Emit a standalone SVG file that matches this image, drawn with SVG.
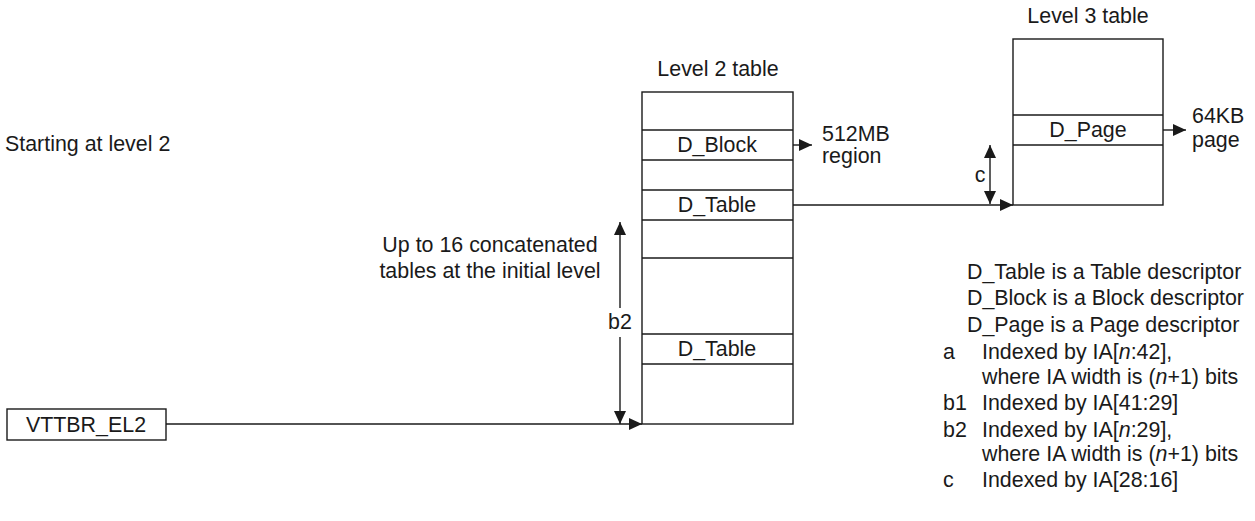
<svg xmlns="http://www.w3.org/2000/svg" width="1255" height="521" viewBox="0 0 1255 521">
<style>
text{font-family:"Liberation Sans",Arial,sans-serif;font-size:21.4px;fill:#1a1a1a}
.m{text-anchor:middle}
.box{fill:#fff;stroke:#1a1a1a;stroke-width:1.4}
.ln{fill:none;stroke:#1a1a1a;stroke-width:1.4}
</style>
<defs>
<marker id="ah" markerUnits="userSpaceOnUse" markerWidth="13" markerHeight="12" viewBox="0 0 13 12" refX="13" refY="6" orient="auto-start-reverse">
<path d="M0,0 L13,6 L0,12 Z" fill="#1a1a1a"/>
</marker>
</defs>
<rect width="1255" height="521" fill="#fff"/>

<g id="start-label"><text x="5" y="151">Starting at level 2</text></g>

<g id="level2-table">
<text class="m" x="718" y="76">Level 2 table</text>
<rect class="box" x="642" y="92" width="151" height="332"/>
<line class="ln" x1="642" y1="130" x2="793" y2="130"/>
<line class="ln" x1="642" y1="160" x2="793" y2="160"/>
<line class="ln" x1="642" y1="190" x2="793" y2="190"/>
<line class="ln" x1="642" y1="220" x2="793" y2="220"/>
<line class="ln" x1="642" y1="258" x2="793" y2="258"/>
<line class="ln" x1="642" y1="334" x2="793" y2="334"/>
<line class="ln" x1="642" y1="364" x2="793" y2="364"/>
<text class="m" x="717" y="152">D_Block</text>
<text class="m" x="717" y="212">D_Table</text>
<text class="m" x="717" y="356">D_Table</text>
</g>

<g id="level3-table">
<text class="m" x="1088" y="23">Level 3 table</text>
<rect class="box" x="1013" y="39" width="150" height="166"/>
<line class="ln" x1="1013" y1="115" x2="1163" y2="115"/>
<line class="ln" x1="1013" y1="145" x2="1163" y2="145"/>
<text class="m" x="1088" y="137">D_Page</text>
</g>

<g id="vttbr">
<rect class="box" x="7" y="409" width="159" height="31"/>
<text class="m" x="86" y="432">VTTBR_EL2</text>
</g>

<g id="region-label"><text x="822" y="141">512MB</text><text x="822" y="163">region</text></g>
<g id="page-label"><text x="1192" y="123">64KB</text><text x="1192" y="147">page</text></g>

<g id="concat-label">
<text class="m" x="490" y="252">Up to 16 concatenated</text>
<text class="m" x="490" y="278">tables at the initial level</text>
</g>
<text class="m" x="620" y="329">b2</text>
<text class="m" x="980" y="182">c</text>

<g id="connectors">
<line class="ln" x1="166" y1="424" x2="642" y2="424" marker-end="url(#ah)"/>
<line class="ln" x1="793" y1="145" x2="812" y2="145" marker-end="url(#ah)"/>
<line class="ln" x1="793" y1="205" x2="1013" y2="205" marker-end="url(#ah)"/>
<line class="ln" x1="1163" y1="130" x2="1186" y2="130" marker-end="url(#ah)"/>
<line class="ln" x1="620" y1="308" x2="620" y2="222" marker-end="url(#ah)"/>
<line class="ln" x1="620" y1="337" x2="620" y2="424" marker-end="url(#ah)"/>
<line class="ln" x1="990" y1="145" x2="990" y2="204" marker-start="url(#ah)" marker-end="url(#ah)"/>
</g>

<g id="legend">
<text x="967" y="279">D_Table is a Table descriptor</text>
<text x="967" y="305">D_Block is a Block descriptor</text>
<text x="967" y="332">D_Page is a Page descriptor</text>
<text x="943" y="359">a</text>
<text x="982" y="359">Indexed by IA[<tspan font-style="italic">n</tspan>:42],</text>
<text x="982" y="384">where IA width is (<tspan font-style="italic">n</tspan>+1) bits</text>
<text x="943" y="410">b1</text>
<text x="982" y="410">Indexed by IA[41:29]</text>
<text x="943" y="437">b2</text>
<text x="982" y="437">Indexed by IA[<tspan font-style="italic">n</tspan>:29],</text>
<text x="982" y="461">where IA width is (<tspan font-style="italic">n</tspan>+1) bits</text>
<text x="943" y="487">c</text>
<text x="982" y="487">Indexed by IA[28:16]</text>
</g>
</svg>
